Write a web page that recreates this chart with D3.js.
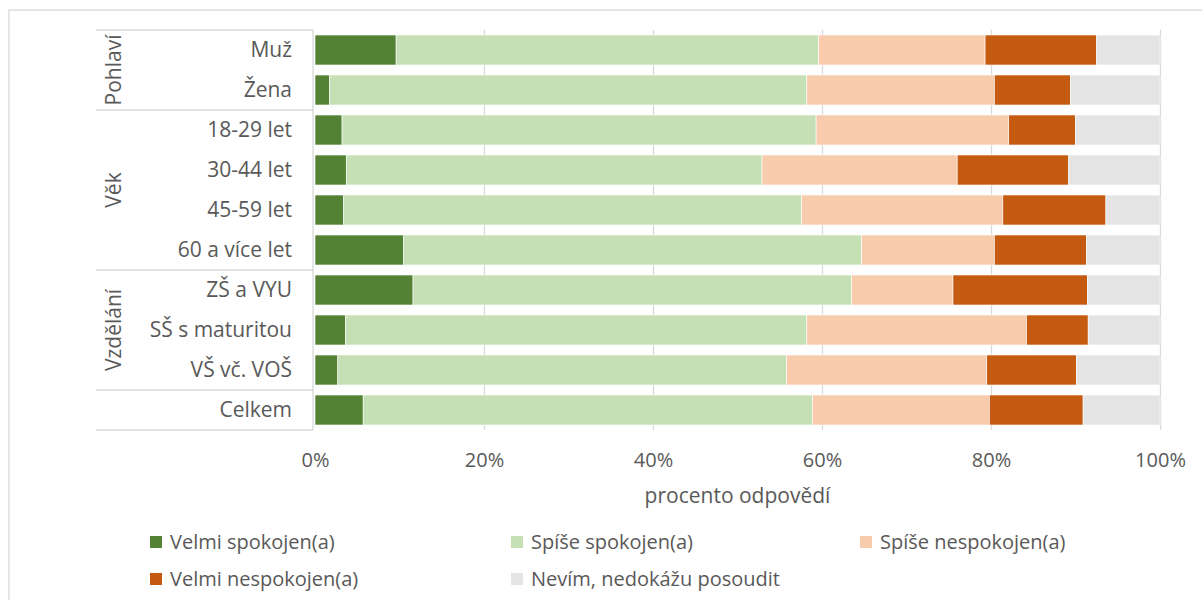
<!DOCTYPE html>
<html><head><meta charset="utf-8">
<script src="https://cdn.jsdelivr.net/npm/d3@7"></script>
<style>
html,body{margin:0;padding:0;background:#fff;}
text{font-family:"Open Sans", Lato, sans-serif;fill:#595959;}
</style></head>
<body><svg id="chart" width="1202" height="600"></svg>
<script>
const categories = ["Muž","Žena","18-29 let","30-44 let","45-59 let","60 a více let","ZŠ a VYU","SŠ s maturitou","VŠ vč. VOŠ","Celkem"];
const groups = [
  {name:"Pohlaví", from:0, to:1},
  {name:"Věk", from:2, to:5},
  {name:"Vzdělání", from:6, to:8},
  {name:"", from:9, to:9}
];
const seriesNames = ["Velmi spokojen(a)","Spíše spokojen(a)","Spíše nespokojen(a)","Velmi nespokojen(a)","Nevím, nedokážu posoudit"];
const velmiSpokojen   = [9.6, 1.7, 3.2, 3.7, 3.4, 10.5, 11.6, 3.6, 2.7, 5.7];
const spiseSpokojen   = [50.0, 56.5, 56.1, 49.2, 54.2, 54.2, 51.9, 54.6, 53.1, 53.2];
const spiseNespokojen = [19.7, 22.2, 22.8, 23.1, 23.8, 15.7, 12.0, 26.0, 23.7, 20.9];
const velmiNespokojen = [13.2, 9.0, 7.9, 13.2, 12.2, 10.9, 15.9, 7.3, 10.6, 11.1];
const nevim           = [7.5, 10.6, 10.0, 10.8, 6.4, 8.7, 8.6, 8.5, 9.9, 9.1];
const tickValues = [0,20,40,60,80,100];
const axisTitle = "procento odpovědí";
const colors = ["#548235","#C5E0B4","#F8CBAD","#C55A11","#E4E4E4"];

const seriesData = [velmiSpokojen, spiseSpokojen, spiseNespokojen, velmiNespokojen, nevim];
const rows = categories.map((c,i)=>{
  const o = {cat:c};
  seriesNames.forEach((s,j)=>o[s]=seriesData[j][i]);
  return o;
});
const stacked = d3.stack().keys(seriesNames)(rows);

const FS = 20;
const svg = d3.select("#chart");
const plotTop = 30, plotBottom = 430;
const x = d3.scaleLinear().domain([0,100]).range([315,1160]);
const y = d3.scaleBand().domain(categories).range([plotTop,plotBottom]).paddingInner(0.25).paddingOuter(0.125);
const step = y.step();

// outer border
svg.append("rect").attr("x",9).attr("y",10).attr("width",1200).attr("height",600)
  .attr("fill","none").attr("stroke","#D9D9D9").attr("stroke-width",1.3);

// gridlines
const grid = svg.append("g").attr("transform",`translate(0,${plotBottom})`)
  .call(d3.axisBottom(x).tickValues(tickValues.slice(1)).tickSize(-(plotBottom-plotTop)).tickFormat(""));
grid.select(".domain").remove();
grid.selectAll("line").attr("stroke","#D9D9D9").attr("stroke-width",1.3);

// bars
svg.append("g").selectAll("g").data(stacked).join("g")
  .attr("fill",(d,i)=>colors[i])
  .selectAll("rect").data(d=>d).join("rect")
  .attr("x",d=>x(d[0])).attr("width",d=>x(d[1])-x(d[0]))
  .attr("y",d=>y(d.data.cat)).attr("height",y.bandwidth())
  .attr("stroke","#fff").attr("stroke-width",0.6);

// category table lines
const tbl = svg.append("g").attr("stroke","#D9D9D9").attr("stroke-width",1.3);
const boundaries = [plotTop].concat(groups.map(g=>y(categories[g.to]) + y.bandwidth() + (step-y.bandwidth())/2));
boundaries.forEach(b=>{
  tbl.append("line").attr("x1",96).attr("x2",313).attr("y1",b).attr("y2",b);
});
tbl.append("line").attr("x1",313).attr("x2",313).attr("y1",plotTop).attr("y2",plotBottom);

// category labels
svg.append("g").selectAll("text").data(categories).join("text")
  .attr("x",292).attr("y",d=>y(d)+y.bandwidth()/2).attr("dy","0.35em")
  .attr("text-anchor","end").attr("font-size",FS+1).text(d=>d);

// group labels
svg.append("g").selectAll("text").data(groups.filter(g=>g.name)).join("text")
  .attr("transform",g=>{
    const cy = (y(categories[g.from]) + y(categories[g.to]) + y.bandwidth())/2;
    return `translate(114,${cy}) rotate(-90)`;
  })
  .attr("dy","0.35em").attr("text-anchor","middle").attr("font-size",FS+1).text(g=>g.name);

// x axis
const ax = svg.append("g").attr("transform",`translate(0,${plotBottom})`)
  .call(d3.axisBottom(x).tickValues(tickValues).tickSize(0).tickFormat(d=>d+"%"));
ax.select(".domain").remove();
ax.selectAll("text").attr("y",37).attr("dy",0).attr("font-size",FS).attr("fill","#595959")
  .style("font-family","'Open Sans', Lato, sans-serif");

svg.append("text").attr("x",(x(0)+x(100))/2).attr("y",503).attr("text-anchor","middle")
  .attr("font-size",FS+1).text(axisTitle);

// legend
const legPos = [[150,542],[511,542],[860,542],[150,579],[511,579]];
const leg = svg.append("g").selectAll("g").data(seriesNames).join("g")
  .attr("transform",(d,i)=>`translate(${legPos[i][0]},${legPos[i][1]})`);
leg.append("rect").attr("x",0).attr("y",-6).attr("width",12).attr("height",12).attr("fill",(d,i)=>colors[i]);
leg.append("text").attr("x",20).attr("dy","0.35em").attr("font-size",FS).text(d=>d);
</script></body></html>
